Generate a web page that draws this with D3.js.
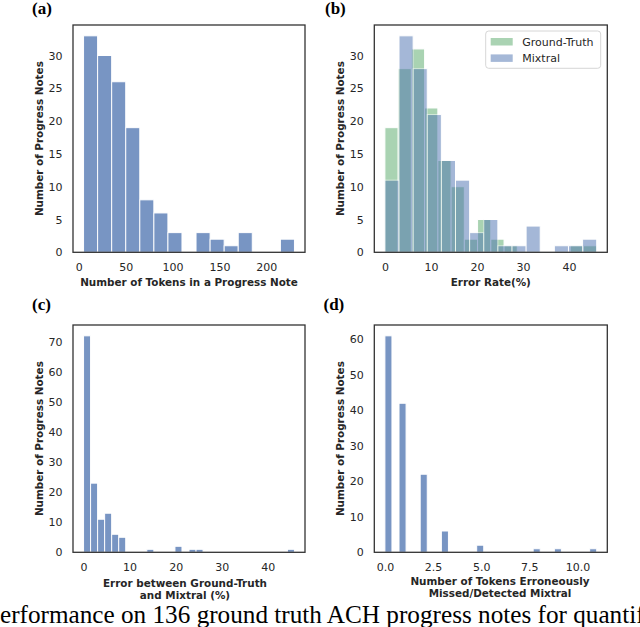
<!DOCTYPE html>
<html>
<head>
<meta charset="utf-8">
<script src="https://cdn.jsdelivr.net/npm/d3@7"></script>
<style>
  body { margin: 0; background: #fff; }
  svg { display: block; }
</style>
</head>
<body>
<svg id="fig" width="640" height="627"></svg>
<script>
// histogram counts (bins split evenly over each range)
var tokenRange = [5, 230];
var tokenCounts = [33, 30, 26, 19, 8, 6, 3, 0, 3, 2, 1, 3, 0, 0, 2];

var gtErrorRange = [0, 46];
var gtErrorCounts = [19, 28, 31, 22, 14, 10, 2, 5, 2, 1, 0, 0, 0, 0, 1, 1];
var mixErrorRange = [0, 46];
var mixErrorCounts = [11, 33, 28, 21, 14, 11, 3, 5, 1, 1, 4, 0, 1, 1, 2];

var diffRange = [0, 45.8];
var diffCounts = [72, 23, 11, 13, 6, 5, 0, 0, 0, 1, 0, 0, 0, 2, 0, 1, 1, 0, 0, 0,
                  0, 0, 0, 0, 0, 0, 0, 0, 0, 1];

var missRange = [0, 11];
var missCounts = [61, 0, 42, 0, 0, 22, 0, 0, 6, 0, 0, 0, 0, 2, 0, 0, 0, 0, 0, 0,
                  0, 1, 0, 0, 1, 0, 0, 0, 0, 1];

var tokenTicks = [0, 50, 100, 150, 200];
var errorTicks = [0, 10, 20, 30, 40];
var missTicks = [0, 2.5, 5, 7.5, 10];
var countTicksAB = [0, 5, 10, 15, 20, 25, 30];
var countTicksC = [0, 10, 20, 30, 40, 50, 60, 70];
var countTicksD = [0, 10, 20, 30, 40, 50, 60];

var seriesNames = ["Ground-Truth", "Mixtral"];

var BLUE = "#4c72b0", GREEN = "#55a868", INK = "#262626";

var svg = d3.select("#fig");

// pad the bar extent by 5% like matplotlib does
function padded(lo, hi) {
  var m = (hi - lo) * 0.05;
  return [lo - m, hi + m];
}

function drawPanel(p) {
  var x = d3.scaleLinear().domain(padded(p.xExtent[0], p.xExtent[1])).range([p.box[0], p.box[1]]);
  var y = d3.scaleLinear().domain([0, p.yMax * 1.05]).range([p.box[3], p.box[2]]);
  var g = svg.append("g");

  p.series.forEach(function(s) {
    var n = s.counts.length, step = (s.range[1] - s.range[0]) / n;
    var bins = s.counts.map(function(c, i) {
      return {x0: s.range[0] + i * step, x1: s.range[0] + (i + 1) * step, c: c};
    }).filter(function(b) { return b.c > 0; });
    g.append("g").selectAll("rect").data(bins).enter().append("rect")
      .attr("x", function(b) { return x(b.x0); })
      .attr("width", function(b) { return x(b.x1) - x(b.x0); })
      .attr("y", function(b) { return y(b.c); })
      .attr("height", function(b) { return y(0) - y(b.c); })
      .attr("fill", s.color)
      .attr("stroke", "#fff")
      .attr("stroke-width", 1)
      .attr("opacity", s.alpha);
  });

  var xa = g.append("g").attr("transform", "translate(0," + p.box[3] + ")")
    .call(d3.axisBottom(x).tickValues(p.xTicks).tickSize(0).tickPadding(10.5).tickFormat(p.xFormat || d3.format("d")));
  var ya = g.append("g").attr("transform", "translate(" + p.box[0] + ",0)")
    .call(d3.axisLeft(y).tickValues(p.yTicks).tickSize(0).tickPadding(10.5).tickFormat(d3.format("d")));
  [xa, ya].forEach(function(a) {
    a.select(".domain").remove();
    a.selectAll("text").attr("font-family", "DejaVu Sans").attr("font-size", 11).attr("fill", INK);
  });

  g.append("rect")
    .attr("x", p.box[0]).attr("y", p.box[2])
    .attr("width", p.box[1] - p.box[0]).attr("height", p.box[3] - p.box[2])
    .attr("fill", "none").attr("stroke", "#333").attr("stroke-width", 1.3);

  g.append("text")
    .attr("transform", "translate(" + (p.box[0] - 30) + "," + ((p.box[2] + p.box[3]) / 2) + ") rotate(-90)")
    .attr("text-anchor", "middle")
    .attr("font-family", "DejaVu Sans").attr("font-weight", "bold").attr("font-size", 10.4).attr("fill", INK)
    .text("Number of Progress Notes");

  var lx = p.xLabelX || (p.box[0] + p.box[1]) / 2;
  p.xLabel.forEach(function(line, i) {
    g.append("text")
      .attr("x", lx).attr("y", p.box[3] + p.xLabelDy + i * 12)
      .attr("text-anchor", "middle")
      .attr("font-family", "DejaVu Sans").attr("font-weight", "bold").attr("font-size", 10.4).attr("fill", INK)
      .text(line);
  });

  g.append("text")
    .attr("x", p.tag[1]).attr("y", p.tag[2])
    .attr("font-family", "Liberation Serif").attr("font-weight", "bold").attr("font-size", 17).attr("fill", "#000")
    .text(p.tag[0]);

  return g;
}

drawPanel({
  box: [73, 305, 25, 252.3],
  xExtent: tokenRange, yMax: d3.max(tokenCounts),
  xTicks: tokenTicks, yTicks: countTicksAB,
  series: [{counts: tokenCounts, range: tokenRange, color: BLUE, alpha: 0.75}],
  xLabel: ["Number of Tokens in a Progress Note"], xLabelDy: 33.7,
  tag: ["(a)", 32, 14]
});

var pb = drawPanel({
  box: [374.3, 607.3, 25, 252.3],
  xExtent: [0, 46], yMax: d3.max(mixErrorCounts),
  xTicks: errorTicks, yTicks: countTicksAB,
  series: [{counts: gtErrorCounts, range: gtErrorRange, color: GREEN, alpha: 0.5},
           {counts: mixErrorCounts, range: mixErrorRange, color: BLUE, alpha: 0.5}],
  xLabel: ["Error Rate(%)"], xLabelDy: 33.7,
  tag: ["(b)", 325, 14]
});

drawPanel({
  box: [73, 305, 325, 552.3],
  xExtent: diffRange, yMax: d3.max(diffCounts),
  xTicks: errorTicks, yTicks: countTicksC,
  series: [{counts: diffCounts, range: diffRange, color: BLUE, alpha: 0.75}],
  xLabel: ["Error between Ground-Truth", "and Mixtral (%)"], xLabelDy: 35, xLabelX: 185,
  tag: ["(c)", 32, 309.5]
});

drawPanel({
  box: [374.3, 607.3, 325, 552.3],
  xExtent: missRange, yMax: d3.max(missCounts),
  xTicks: missTicks, yTicks: countTicksD, xFormat: d3.format(".1f"),
  series: [{counts: missCounts, range: missRange, color: BLUE, alpha: 0.75}],
  xLabel: ["Number of Tokens Erroneously", "Missed/Detected Mixtral"], xLabelDy: 33, xLabelX: 500,
  tag: ["(d)", 323.5, 309.5]
});

// legend for panel (b)
var leg = pb.append("g").attr("transform", "translate(485.7,31)");
leg.append("rect").attr("width", 115).attr("height", 37.3).attr("rx", 3)
  .attr("fill", "#fff").attr("fill-opacity", 0.8).attr("stroke", "#ccc").attr("stroke-width", 0.8);
[GREEN, BLUE].forEach(function(c, i) {
  leg.append("rect").attr("x", 5).attr("y", 7 + i * 16.4).attr("width", 22).attr("height", 7.5)
    .attr("fill", c).attr("opacity", 0.5);
  leg.append("text").attr("x", 36.6).attr("y", 14.5 + i * 16.4)
    .attr("font-family", "DejaVu Sans").attr("font-size", 11).attr("fill", INK)
    .text(seriesNames[i]);
});

// caption strip cut off at the page edges
var cap = svg.append("text")
  .attr("y", 622.5)
  .attr("font-family", "Liberation Serif").attr("font-size", 24).attr("fill", "#000")
  .text("Performance on 136 ground truth ACH progress notes for quantif");
var full = cap.node().getComputedTextLength();
var pw = cap.node().getSubStringLength(0, 1);
var fs = 24 * 645 / (full - pw);
cap.attr("font-size", fs).attr("x", -pw * fs / 24);
</script>
</body>
</html>
